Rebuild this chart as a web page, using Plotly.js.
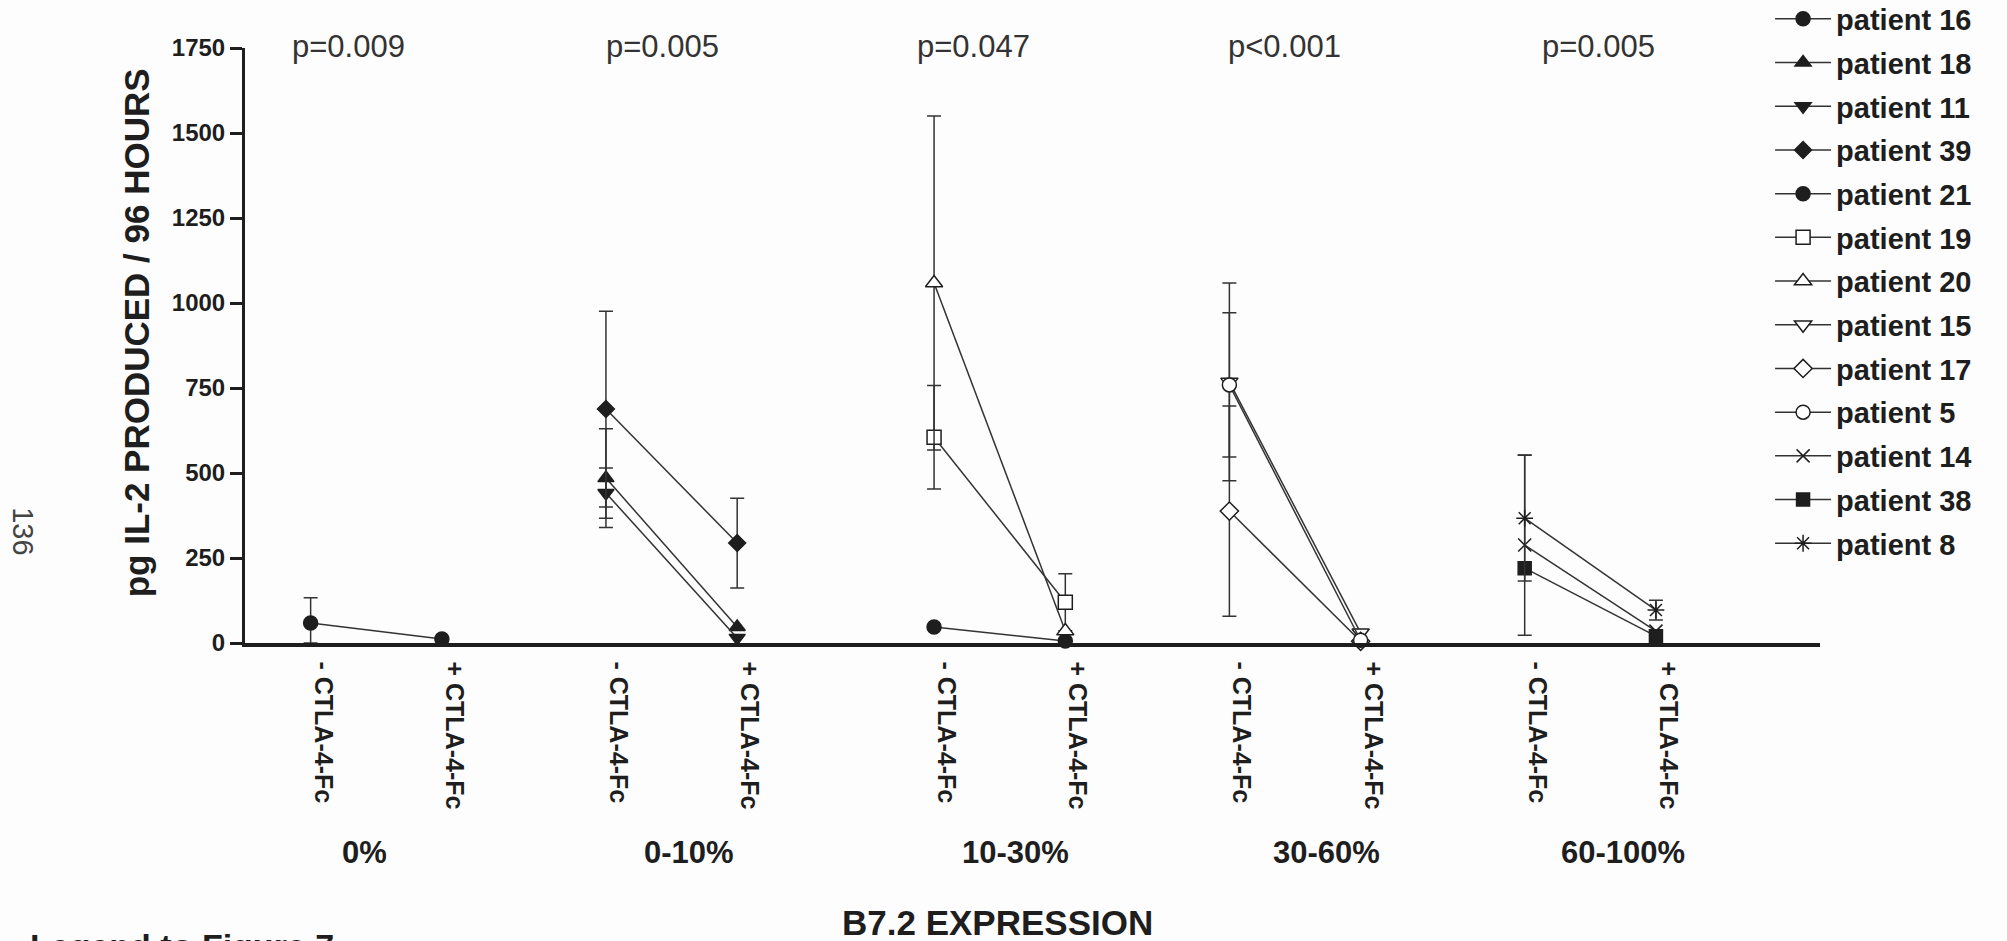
<!DOCTYPE html>
<html><head><meta charset="utf-8">
<script src="https://cdn.plot.ly/plotly-3.0.1.min.js"></script>
<style>html,body{margin:0;padding:0;background:#fdfdfd;} #chart{width:2007px;height:941px;}</style>
</head><body><div id="chart"></div>
<script>
// ---- data ----
const groups = ['0%', '0-10%', '10-30%', '30-60%', '60-100%'];
const groupCenter = [1.5, 3.75, 6.25, 8.5, 10.75];
const pValues = ['p=0.009', 'p=0.005', 'p=0.047', 'p<0.001', 'p=0.005'];
const treatmentLabels = ['- CTLA-4-Fc', '+ CTLA-4-Fc'];
const patients = ['patient 16', 'patient 18', 'patient 11', 'patient 39', 'patient 21', 'patient 19', 'patient 20',
                  'patient 15', 'patient 17', 'patient 5', 'patient 14', 'patient 38', 'patient 8'];
const patientGroup = [0, 1, 1, 1, 2, 2, 2, 3, 3, 3, 4, 4, 4];
const il2Without = [59, 485, 441, 688, 47, 605, 1059, 768, 388, 759, 288, 220, 367];
const il2With    = [12, 47, 15, 294, 6, 120, 35, 30, 5, 8, 35, 20, 97];
const errWithout = [74, 145, 74, 288, null, 152, 491, 291, 309, 212, 265, null, 185];
const errWith    = [null, null, null, 132, null, 84, null, null, null, null, null, null, 29];

// ---- styles ----
const symbols = ['circle', 'triangle-up', 'triangle-down', 'diamond', 'circle', 'square', 'triangle-up',
                 'triangle-down', 'diamond', 'circle', 'x-thin-open', 'square', 'asterisk-open'];
const filled  = [true, true, true, true, true, false, false, false, false, false, true, true, true];
const sizes   = [14, 14, 14, 13, 14, 14, 15, 15, 14, 14, 13, 13, 14];
const ink = '#1e1e1e';
const fontFam = '"Liberation Sans", Arial, sans-serif';
const pLabelShift = [-0.21, -0.07, -0.2, -0.08, 0.06];
const groupLabelShift = [-0.09, 0.13, 0.12, 0.24, 0.25];

const traces = patients.map((name, i) => {
  const c = groupCenter[patientGroup[i]];
  const ys = [il2Without[i], il2With[i]];
  const es = [errWithout[i], errWith[i]];
  return {
    type: 'scatter', mode: 'lines+markers', name: name, legendgroup: name,
    x: [c - 0.5, c + 0.5], y: ys,
    cliponaxis: false,
    line: {color: '#333', width: 1.5},
    marker: {symbol: symbols[i], size: sizes[i], color: filled[i] ? ink : '#ffffff',
             line: {color: ink, width: 1.5}},
    error_y: {type: 'data', symmetric: false, visible: true,
              array: es.map(e => e == null ? NaN : e),
              arrayminus: es.map((e, k) => e == null ? NaN : Math.min(e, ys[k])),
              color: '#333', thickness: 1.5, width: 7}
  };
});

const tickvals = [], ticktext = [];
groupCenter.forEach(c => { tickvals.push(c - 0.5, c + 0.5); ticktext.push(treatmentLabels[0], treatmentLabels[1]); });

const annotations = [];
groups.forEach((g, k) => {
  annotations.push({xref: 'x', yref: 'paper', x: groupCenter[k] + groupLabelShift[k], y: -0.352,
    text: g, showarrow: false, xanchor: 'center', yanchor: 'middle',
    font: {family: fontFam, size: 31, color: ink, weight: 'bold'}});
  annotations.push({xref: 'x', yref: 'paper', x: groupCenter[k] + pLabelShift[k], y: 1.0017,
    text: pValues[k], showarrow: false, xanchor: 'center', yanchor: 'middle',
    font: {family: fontFam, size: 31, color: '#333'}});
});
annotations.push({xref: 'paper', yref: 'paper', x: -0.069, y: 0.521, text: 'pg IL-2 PRODUCED / 96 HOURS', textangle: -90,
  showarrow: false, xanchor: 'center', yanchor: 'middle', font: {family: fontFam, size: 35, color: ink, weight: 'bold'}});
annotations.push({xref: 'paper', yref: 'paper', x: 0.478, y: -0.469, text: 'B7.2 EXPRESSION',
  showarrow: false, xanchor: 'center', yanchor: 'middle', font: {family: fontFam, size: 35, color: ink, weight: 'bold'}});
annotations.push({xref: 'paper', yref: 'paper', x: -0.1378, y: -0.474, text: 'Legend to Figure 7:',
  showarrow: false, xanchor: 'left', yanchor: 'top', font: {family: fontFam, size: 34, color: ink, weight: 'bold'}});
annotations.push({xref: 'paper', yref: 'paper', x: -0.141, y: 0.188, text: '136', textangle: 90,
  showarrow: false, xanchor: 'center', yanchor: 'middle', font: {family: fontFam, size: 29, color: '#444'}});

const layout = {
  width: 2007, height: 941,
  paper_bgcolor: '#fdfdfd', plot_bgcolor: '#fdfdfd',
  margin: {l: 245, r: 187, t: 48, b: 298, autoexpand: false},
  font: {family: fontFam, color: ink},
  showlegend: true,
  legend: {x: 0.9683, y: 1.0916, xanchor: 'left', yanchor: 'top', tracegroupgap: 3, maxheight: 900, itemwidth: 56,
           font: {family: fontFam, size: 29, color: ink, weight: 'bold'}, bgcolor: 'rgba(0,0,0,0)'},
  xaxis: {range: [0.5, 12.5], showgrid: false, zeroline: false, showline: true, linecolor: ink, linewidth: 3.5,
          tickmode: 'array', tickvals: tickvals, ticktext: ticktext, ticks: '', tickangle: 90,
          ticklabelshift: 12, ticklabelstandoff: 10,
          tickfont: {family: fontFam, size: 25, color: ink, weight: 'bold'}, automargin: false},
  yaxis: {range: [0, 1750], showgrid: false, zeroline: false, showline: true, linecolor: ink, linewidth: 3,
          tickmode: 'linear', tick0: 0, dtick: 250, ticks: 'outside', ticklen: 12, tickwidth: 3, tickcolor: ink,
          tickfont: {family: fontFam, size: 24, color: ink, weight: 'bold'}, automargin: false},
  annotations: annotations
};

Plotly.newPlot('chart', traces, layout, {displayModeBar: false, staticPlot: true});
</script></body></html>
